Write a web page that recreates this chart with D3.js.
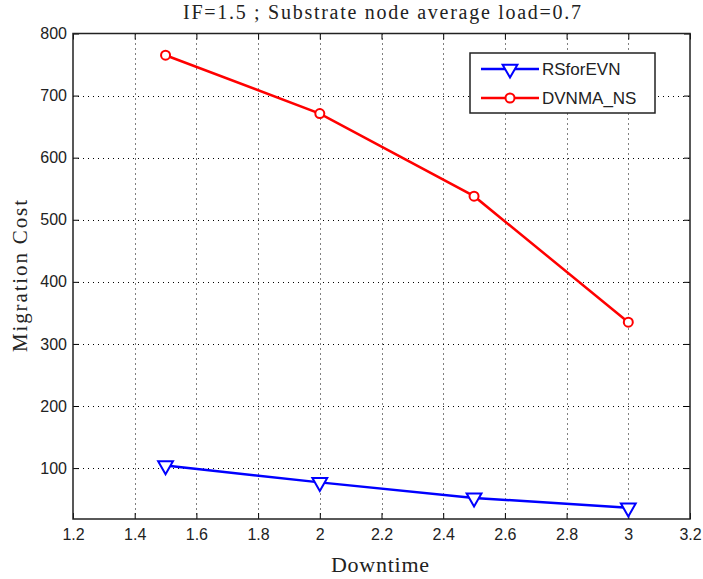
<!DOCTYPE html>
<html>
<head>
<meta charset="utf-8">
<script src="https://cdn.jsdelivr.net/npm/d3@7"></script>
<style>
body { margin: 0; background: #fff; }
svg { display: block; }
</style>
</head>
<body>
<svg width="703" height="579"></svg>
<script>
var downtime = [1.5, 2, 2.5, 3];
var rsforevn = [104, 77, 52, 36];
var dvnma = [765, 671, 538, 335];
var xTicks = [1.2, 1.4, 1.6, 1.8, 2, 2.2, 2.4, 2.6, 2.8, 3, 3.2];
var yTicks = [100, 200, 300, 400, 500, 600, 700, 800];
var seriesNames = ["RSforEVN", "DVNMA_NS"];

var svg = d3.select("svg"),
  width = +svg.attr("width"),
  height = +svg.attr("height");

var pLeft = 73, pRight = 690, pTop = 33.5, pBottom = 519;

var x = d3.scaleLinear().domain([1.2, 3.2]).range([pLeft, pRight]);
var y = d3.scaleLinear().domain([18, 800]).range([pBottom, pTop]);

// grid
var grid = svg.append("g").attr("stroke", "#000").attr("stroke-width", 1)
  .attr("stroke-dasharray", "1,4");
grid.selectAll(".gx").data(xTicks.slice(1, -1)).enter().append("line")
  .attr("x1", function(d) { return Math.round(x(d)) + 0.5; })
  .attr("x2", function(d) { return Math.round(x(d)) + 0.5; })
  .attr("y1", pTop).attr("y2", pBottom);
grid.selectAll(".gy").data(yTicks.slice(0, -1)).enter().append("line")
  .attr("y1", function(d) { return Math.round(y(d)) + 0.5; })
  .attr("y2", function(d) { return Math.round(y(d)) + 0.5; })
  .attr("x1", pLeft).attr("x2", pRight);

// axes (ticks inside, mirrored)
var ax = svg.append("g");
ax.append("g").attr("transform", "translate(0," + pBottom + ")")
  .call(d3.axisBottom(x).tickValues(xTicks).tickSizeInner(-6).tickSizeOuter(0).tickPadding(10)
    .tickFormat(d3.format("")));
ax.append("g").attr("transform", "translate(0," + pTop + ")")
  .call(d3.axisTop(x).tickValues(xTicks).tickSizeInner(-6).tickSizeOuter(0).tickFormat(""));
ax.append("g").attr("transform", "translate(" + pLeft + ",0)")
  .call(d3.axisLeft(y).tickValues(yTicks).tickSizeInner(-6).tickSizeOuter(0).tickPadding(6));
ax.append("g").attr("transform", "translate(" + pRight + ",0)")
  .call(d3.axisRight(y).tickValues(yTicks).tickSizeInner(-6).tickSizeOuter(0).tickFormat(""));
ax.selectAll(".domain").remove();
ax.selectAll("g").attr("font-family", "Liberation Sans, Arial, sans-serif").attr("font-size", 16);
ax.selectAll("line").attr("stroke", "#000");
ax.selectAll("text").attr("fill", "#222");

svg.append("rect").attr("x", pLeft).attr("y", pTop)
  .attr("width", pRight - pLeft).attr("height", pBottom - pTop)
  .attr("fill", "none").attr("stroke", "#222").attr("stroke-width", 1.5);

// series
var line = d3.line().x(function(d) { return x(d[0]); }).y(function(d) { return y(d[1]); });
var blue = "#0000ff", red = "#ff0000";

svg.append("path").datum(d3.zip(downtime, rsforevn)).attr("d", line)
  .attr("fill", "none").attr("stroke", blue).attr("stroke-width", 2.5);
svg.append("path").datum(d3.zip(downtime, dvnma)).attr("d", line)
  .attr("fill", "none").attr("stroke", red).attr("stroke-width", 2.5);

var tri = d3.symbol().type(d3.symbolTriangle).size(95);
function triDown(g) {
  g.append("path").attr("d", tri).attr("transform", function(d) {
      return "translate(" + x(d[0]) + "," + y(d[1]) + ") rotate(180)";
    })
    .attr("fill", "#fff").attr("stroke", blue).attr("stroke-width", 2);
}
svg.append("g").selectAll("g").data(d3.zip(downtime, rsforevn)).enter().append("g").call(triDown);
svg.append("g").selectAll("circle").data(d3.zip(downtime, dvnma)).enter().append("circle")
  .attr("cx", function(d) { return x(d[0]); }).attr("cy", function(d) { return y(d[1]); })
  .attr("r", 4.5).attr("fill", "#fff").attr("stroke", red).attr("stroke-width", 2);

// legend
var lg = svg.append("g").attr("transform", "translate(470,53)");
lg.append("rect").attr("width", 185).attr("height", 60).attr("fill", "#fff")
  .attr("stroke", "#222").attr("stroke-width", 1.5);
var rows = lg.selectAll(".row").data(seriesNames).enter().append("g")
  .attr("transform", function(d, i) { return "translate(0," + (16 + i * 29) + ")"; });
rows.append("line").attr("x1", 11).attr("x2", 69)
  .attr("stroke", function(d, i) { return i ? red : blue; }).attr("stroke-width", 2.5);
rows.filter(function(d, i) { return i === 0; }).append("path").attr("d", tri)
  .attr("transform", "translate(40,0) rotate(180)")
  .attr("fill", "#fff").attr("stroke", blue).attr("stroke-width", 2);
rows.filter(function(d, i) { return i === 1; }).append("circle").attr("cx", 40).attr("r", 4.5)
  .attr("fill", "#fff").attr("stroke", red).attr("stroke-width", 2);
rows.append("text").attr("x", 72).attr("dy", "0.35em")
  .attr("font-family", "Liberation Sans, Arial, sans-serif").attr("font-size", 17)
  .attr("fill", "#222").text(function(d) { return d; });

// titles
var serif = "Liberation Serif, Times New Roman, serif";
svg.append("text").attr("x", 382).attr("y", 19).attr("text-anchor", "middle")
  .attr("font-family", serif).attr("font-size", 20).attr("fill", "#222")
  .attr("textLength", 398).attr("lengthAdjust", "spacing")
  .text("IF=1.5 ; Substrate node average load=0.7");
svg.append("text").attr("x", 380).attr("y", 572).attr("text-anchor", "middle")
  .attr("font-family", serif).attr("font-size", 22).attr("fill", "#222")
  .attr("textLength", 98).attr("lengthAdjust", "spacing")
  .text("Downtime");
svg.append("text").attr("transform", "translate(27,276) rotate(-90)").attr("text-anchor", "middle")
  .attr("font-family", serif).attr("font-size", 21).attr("fill", "#222")
  .attr("textLength", 152).attr("lengthAdjust", "spacing")
  .text("Migration Cost");
</script>
</body>
</html>
